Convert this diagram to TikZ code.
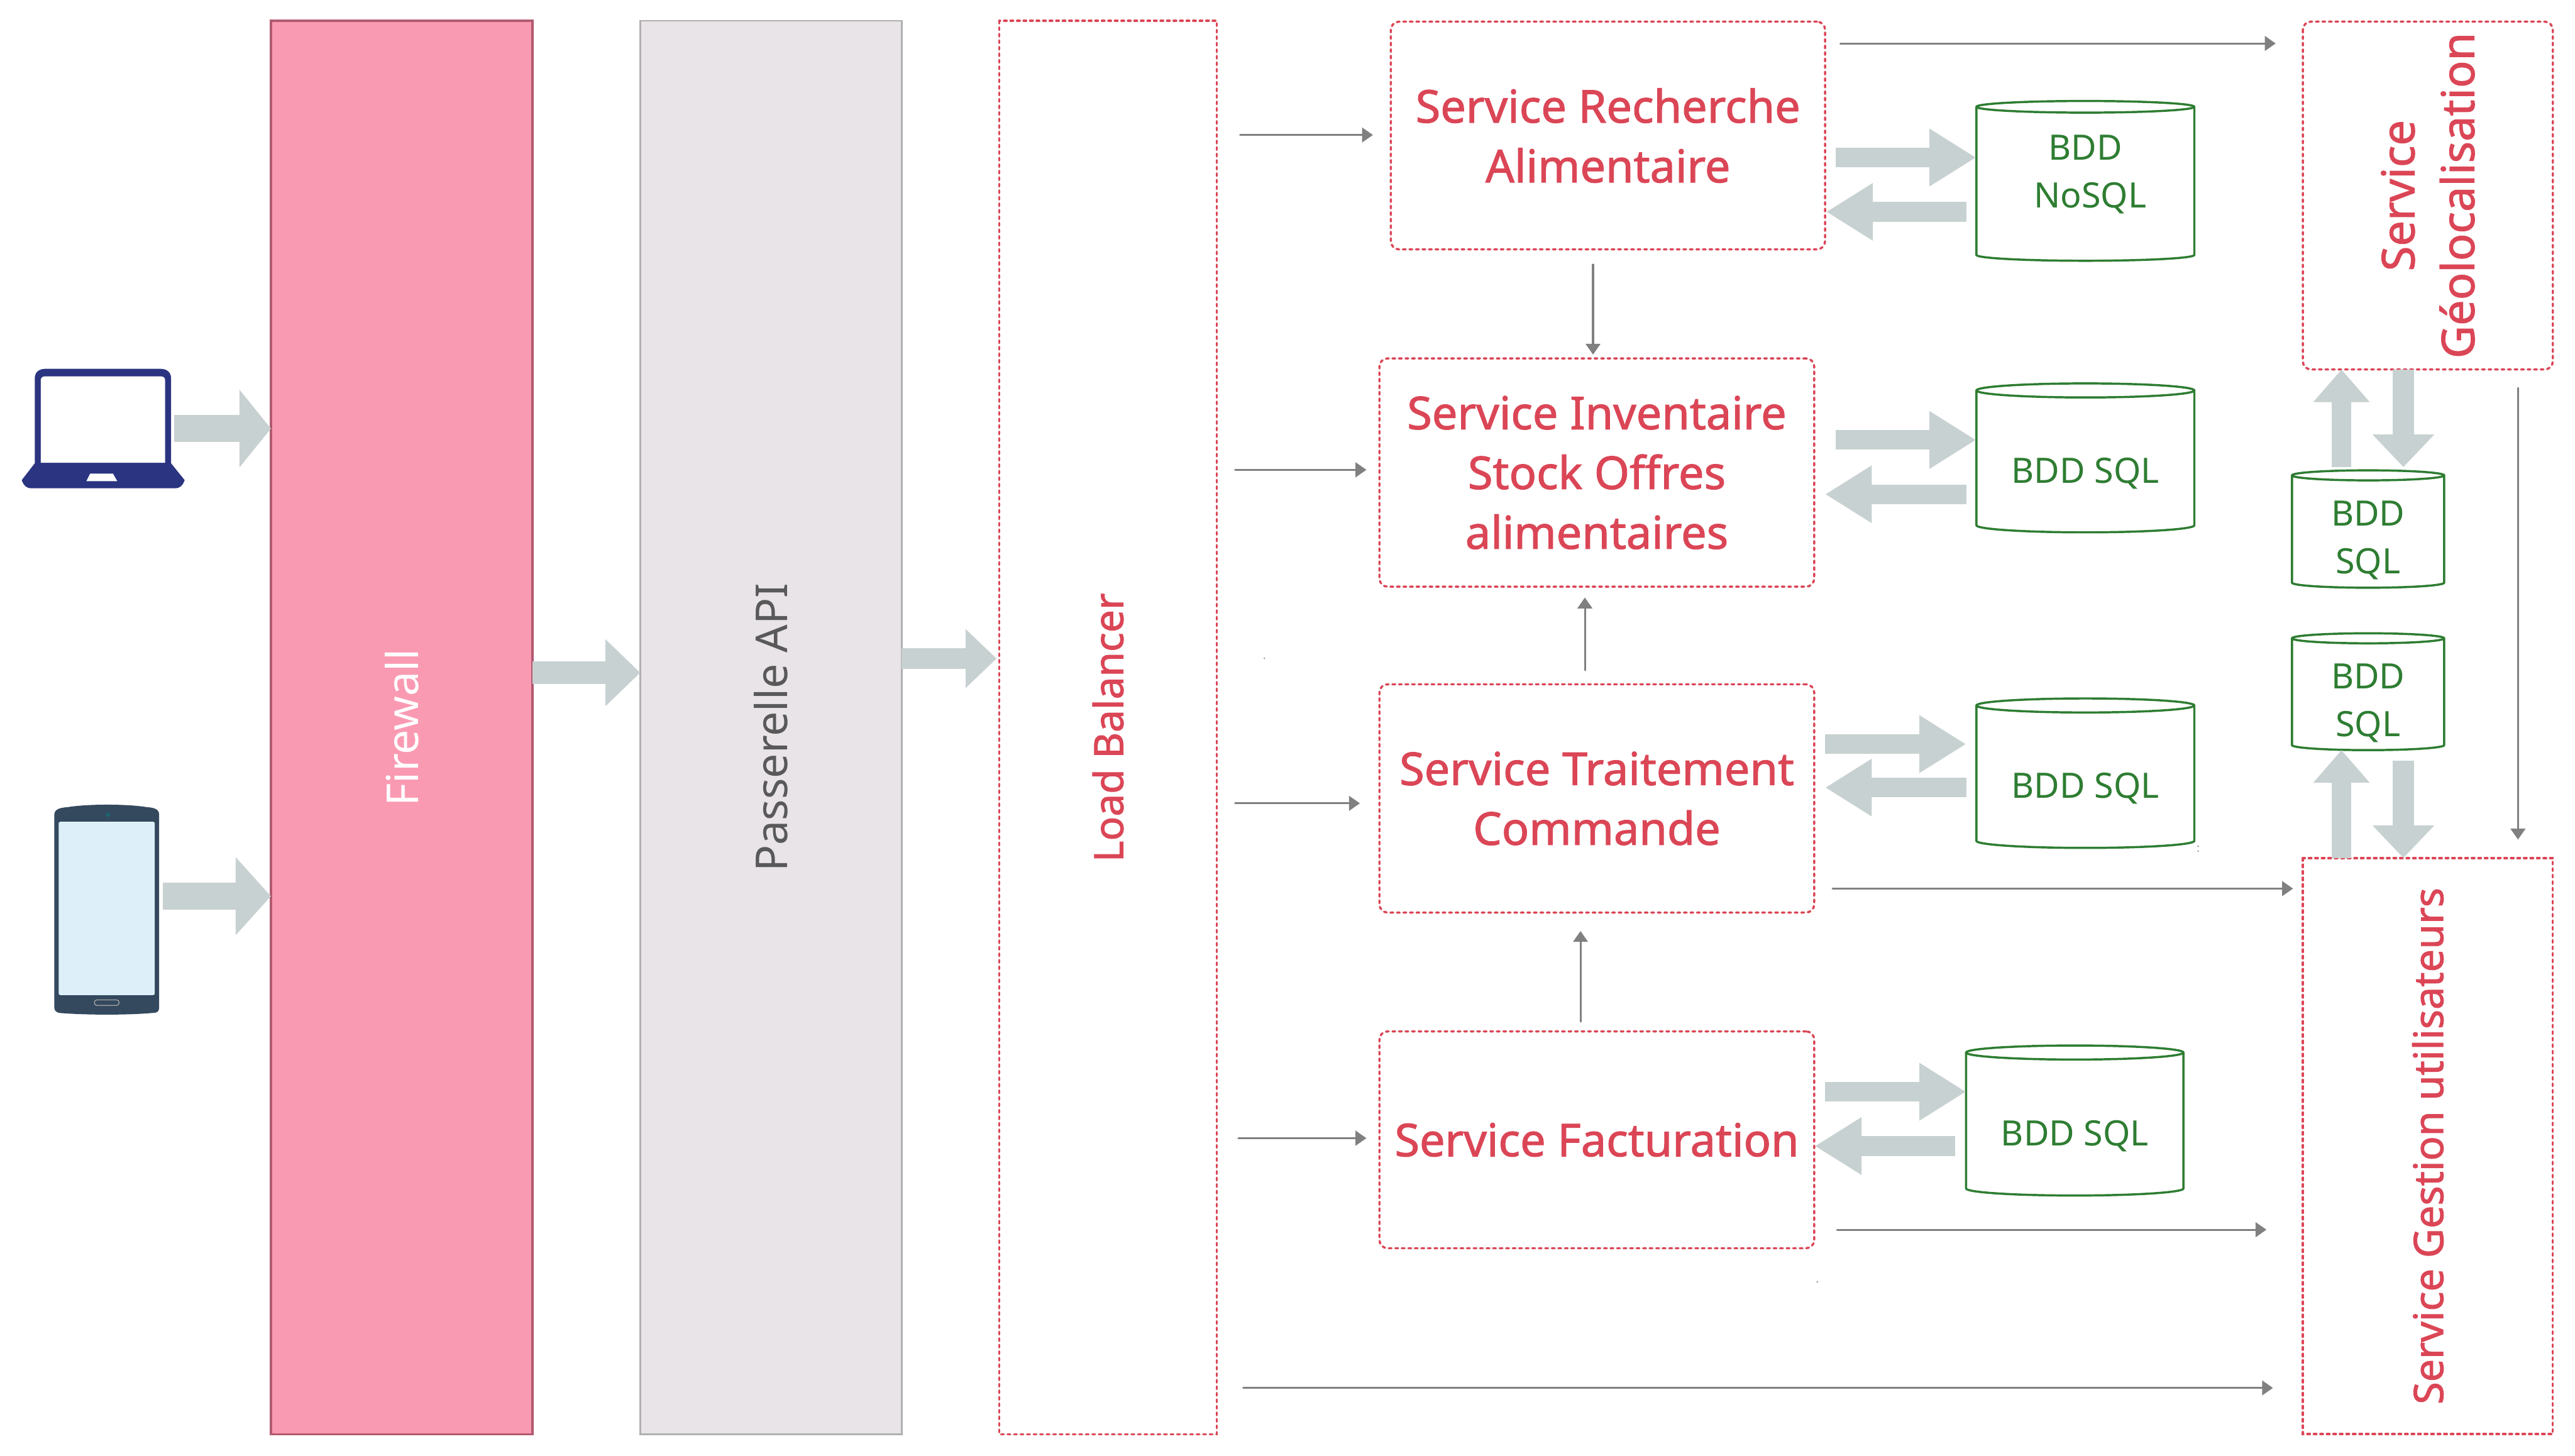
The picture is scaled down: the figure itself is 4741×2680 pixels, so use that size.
\documentclass[tikz,border=0pt]{standalone}
\usepackage{fontspec}
\setmainfont{Noto Sans}
\newfontfamily\redfont[FakeBold=1.5]{Noto Sans}
\usetikzlibrary{calc,arrows.meta,shapes.geometric}
\definecolor{redline}{RGB}{219,70,86}
\definecolor{greenline}{RGB}{46,125,50}
\definecolor{fatgray}{RGB}{200,209,209}
\definecolor{thingray}{RGB}{128,128,128}
\definecolor{pinkfill}{RGB}{250,154,178}
\definecolor{pinkedge}{RGB}{176,90,112}
\definecolor{palegray}{RGB}{232,228,232}
\definecolor{paleedge}{RGB}{176,176,176}
\definecolor{textgray}{RGB}{89,89,89}
\definecolor{navy}{RGB}{43,52,128}
\definecolor{slate}{RGB}{52,73,94}
\definecolor{screenblue}{RGB}{221,240,250}
\tikzset{
  column/.style={rectangle,rotate=90,inner sep=0pt,outer sep=0pt,minimum width=26.01cm,align=center},
  redframe/.style={draw=redline,line width=0.04cm,line cap=round,dash pattern=on 0.05cm off 0.07cm},
  service/.style={rectangle,redframe,rounded corners=0.15cm,inner sep=0pt,outer sep=0pt,text=redline,
    align=center,font=\redfont\fontsize{23.7}{31.3}\selectfont},
  vservice/.style={service,rotate=90},
  dbase/.style={cylinder,shape border rotate=90,shape aspect=0.095,draw=greenline,line width=0.04cm,
    inner sep=0pt,outer sep=0pt,text=greenline,align=center,font=\fontsize{18.3}{25}\selectfont,anchor=shape center},
  iconbox/.style={rectangle,inner sep=0pt,outer sep=0pt},
  link/.style={draw=thingray,line width=0.035cm,line cap=round,-{Triangle[length=0.2cm,width=0.27cm]}},
  fat/.style n args={3}{draw=fatgray,line width=#1cm,-{Triangle[length=#3cm,width=#2cm]}},
  fatpc/.style={fat={0.36}{1.0}{0.86}},
  fatup/.style={fat={0.36}{1.0}{0.6}},
  fatdown/.style={fat={0.40}{1.1}{0.6}},
}
\begin{document}
\begin{tikzpicture}[x=0.01cm,y=-0.01cm]
\useasboundingbox (0,0) rectangle (4741,2680);

% columns
\node[column,fill=pinkfill,draw=pinkedge,line width=0.04cm,minimum height=4.81cm,text=white,font=\fontsize{23}{27}\selectfont] (fw) at (739.5,1339.5) {Firewall};
\node[column,fill=palegray,draw=paleedge,line width=0.03cm,minimum height=4.81cm,text=textgray,font=\fontsize{23}{27}\selectfont] (pass) at (1419.5,1339.5) {Passerelle API};
\node[column,redframe,minimum height=4cm,text=redline,font=\redfont\fontsize{21.1}{27}\selectfont] (lb) at (2040,1339.5) {Load Balancer};

% services
\node[service,minimum width=7.99cm,minimum height=4.19cm] (rech) at (2960.5,249.5) {Service Recherche\\Alimentaire};
\node[service,minimum width=8cm,minimum height=4.2cm] (inv) at (2940,870) {Service Inventaire\\Stock Offres\\alimentaires};
\node[service,minimum width=8cm,minimum height=4.2cm] (tr) at (2940,1470) {Service Traitement\\Commande};
\node[service,minimum width=8cm,minimum height=3.99cm] (fac) at (2940,2098.5) {Service Facturation};
\node[vservice,minimum width=6.4cm,minimum height=4.6cm] (geo) at (4470,360) {Service\\Géolocalisation};
\node[vservice,sharp corners,minimum width=10.6cm,minimum height=4.6cm,font=\redfont\fontsize{21.3}{27}\selectfont] (ges) at (4470,2110) {Service Gestion utilisateurs};

% databases
\node[dbase,minimum width=4.01cm,minimum height=2.94cm] (db1) at (3839.5,333) {BDD\\\hspace{0.18cm}NoSQL\rule[-13.7pt]{0pt}{0pt}};
\node[dbase,minimum width=4.01cm,minimum height=2.74cm] (db2) at (3839.5,843) {\rule{0pt}{25pt}BDD SQL};
\node[dbase,minimum width=4.01cm,minimum height=2.75cm] (db3) at (3839.5,1423.5) {\rule{0pt}{25pt}BDD SQL};
\node[dbase,minimum width=4cm,minimum height=2.76cm] (db4) at (3820,2063) {\rule{0pt}{25pt}BDD SQL};
\node[dbase,shape aspect=0.136,minimum width=2.8cm,minimum height=2.16cm] (db5) at (4360,974) {\rule{0pt}{21.6pt}BDD\\SQL};
\node[dbase,shape aspect=0.136,minimum width=2.8cm,minimum height=2.15cm] (db6) at (4360,1273.5) {\rule{0pt}{21.6pt}BDD\\SQL};

% laptop
\node[iconbox,minimum width=3cm,minimum height=2.2cm] (laptop) at (190,789) {};
\fill[navy] (64,853) -- (64,697) .. controls (64,685) and (72,679) .. (84,679) -- (295,679)
  .. controls (307,679) and (315,685) .. (315,697) -- (315,853) -- (340,884)
  .. controls (336,895) and (330,899) .. (323,899) -- (57,899) .. controls (50,899) and (44,895) .. (40,884) -- cycle;
\fill[white] (75,852) -- (75,700) .. controls (75,696) and (78,693) .. (82,693) -- (297,693)
  .. controls (301,693) and (304,696) .. (304,700) -- (304,852) -- cycle;
\fill[white] (159,886) -- (166,872) -- (208,872) -- (216,886) -- cycle;

% tablet
\node[iconbox,minimum width=1.93cm,minimum height=3.88cm] (tablet) at (196.5,1674) {};
\fill[slate] (100,1500) .. controls (100,1490) and (110,1487) .. (125,1486) .. controls (160,1480) and (235,1480) .. (270,1486)
  .. controls (285,1487) and (293,1490) .. (293,1500) -- (293,1855) .. controls (293,1862) and (290,1865) .. (280,1865)
  .. controls (235,1869) and (160,1869) .. (110,1865) .. controls (103,1864) and (100,1860) .. (100,1855) -- cycle;
\fill[screenblue,rounded corners=0.03cm] (108,1513) rectangle (285,1832);
\fill[teal!50!slate] (199,1500) ellipse [x radius=4.5,y radius=4];
\draw[gray!70,line width=0.015cm,rounded corners=0.04cm] (174,1841) rectangle (219,1851);

% specks
\fill[thingray] (2328,1212) circle [radius=1.5];
\fill[thingray] (3346,2360) circle [radius=1.5];
\fill[thingray] (4047,1558) circle [radius=1.5];
\fill[thingray] (4047,1567) circle [radius=1.5];

% wide arrows
\draw[fat={0.5}{1.4}{0.58}] ($(laptop.east)+(-20,0)$) -- (laptop.east -| fw.north);
\draw[fat={0.5}{1.4}{0.65}] ($(tablet.east)+(7,-24)$) -- ($(tablet.east -| fw.north)+(0,-24)$);
\draw[fat={0.42}{1.19}{0.64}] ($(fw.south)+(0,-101)$) -- ($(pass.north)+(0,-101)$);
\draw[fat={0.375}{1.05}{0.57}] ($(pass.south)+(0,-127)$) -- ($(lb.north)+(-5,-127)$);

\draw[fatpc] ($(rech.east |- db1.shape center)+(20,-43)$) -- ($(db1.shape center)+(-201,-43)$);
\draw[fatpc] ($(db1.shape center)+(-219,57)$) -- ($(rech.east |- db1.shape center)+(2,57)$);
\draw[fatpc] ($(inv.east |- db2.shape center)+(40,-33)$) -- ($(db2.shape center)+(-201,-33)$);
\draw[fatpc] ($(db2.shape center)+(-219,67)$) -- ($(inv.east |- db2.shape center)+(20,67)$);
\draw[fatpc] ($(tr.east |- db3.shape center)+(20,-53.5)$) -- ($(db3.shape center)+(-219.5,-53.5)$);
\draw[fatpc] ($(db3.shape center)+(-219.5,26.5)$) -- ($(tr.east |- db3.shape center)+(20,26.5)$);
\draw[fatpc] ($(fac.east |- db4.shape center)+(20,-53)$) -- ($(db4.shape center)+(-200,-53)$);
\draw[fatpc] ($(db4.shape center)+(-220,47)$) -- ($(fac.east |- db4.shape center)+(1,47)$);

\draw[fatup] ($(db5.shape center)+(-49,-114)$) -- ($(db5.shape center |- geo.west)+(-49,0)$);
\draw[fatdown] ($(db5.shape center |- geo.west)+(65,0)$) -- ($(db5.shape center)+(65,-114)$);
\draw[fatup] ($(db6.shape center |- ges.east)+(-49,0)$) -- ($(db6.shape center)+(-49,107.5)$);
\draw[fatdown] ($(db6.shape center)+(65,126.5)$) -- ($(db6.shape center |- ges.east)+(65,0)$);

% thin arrows
\draw[link] ($(rech.west -| lb.south)+(43,-1)$) -- ($(rech.west)+(-33,-1)$);
\draw[link] ($(inv.west -| lb.south)+(34,-5)$) -- ($(inv.west)+(-24,-5)$);
\draw[link] ($(tr.west -| lb.south)+(34,9)$) -- ($(tr.west)+(-36,9)$);
\draw[link] ($(fac.west -| lb.south)+(40,-3)$) -- ($(fac.west)+(-24,-3)$);
\draw[link] ($(lb.south |- ges.west)+(49,-85)$) -- ($(ges.north |- ges.west)+(-55,-85)$);
\draw[link] ($(rech.east)+(28,-169.5)$) -- ($(rech.east -| geo.north)+(-50,-169.5)$);
\draw[link] ($(inv.north |- rech.south)+(-7,28)$) -- ($(inv.north)+(-7,-7)$);
\draw[link] ($(tr.north)+(-22,-26)$) -- ($(inv.south)+(-22,20)$);
\draw[link] ($(fac.north)+(-30,-18)$) -- ($(tr.south)+(-30,34)$);
\draw[link] ($(tr.east)+(34,166)$) -- ($(tr.east -| ges.north)+(-18,166)$);
\draw[link] ($(fac.east)+(42,165.5)$) -- ($(fac.east -| ges.north)+(-67,165.5)$);
\draw[link] ($(geo.west)+(166,34)$) -- ($(ges.east)+(166,-34)$);
\end{tikzpicture}
\end{document}
